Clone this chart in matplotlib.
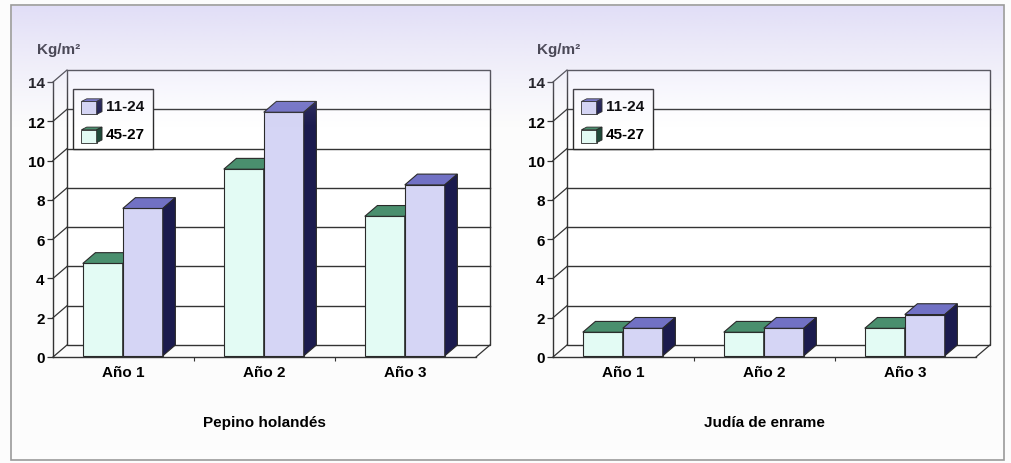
import matplotlib
matplotlib.use("Agg")
import matplotlib.pyplot as plt
from matplotlib.patches import Polygon, Rectangle, Patch
from matplotlib.legend_handler import HandlerBase
import numpy as np

# ---------------- data ----------------
categories = ["Año 1", "Año 2", "Año 3"]
series_names = ["11-24", "45-27"]
pepino_1124 = [7.5, 12.4, 8.7]
pepino_4527 = [4.7, 9.5, 7.1]
judia_1124 = [1.4, 1.4, 2.1]
judia_4527 = [1.2, 1.2, 1.4]
chart_titles = ["Pepino holandés", "Judía de enrame"]
y_ticks = [0, 2, 4, 6, 8, 10, 12, 14]
unit_label = "Kg/m²"

# ---------------- style ----------------
W, H, DPI = 1012, 464, 100
FONT = "Liberation Sans"
FS = 11
LAV_FRONT = "#d5d5f5"
LAV_TOP = "#7171c4"
LAV_SIDE = "#1b1b4e"
CY_FRONT = "#e3fbf4"
CY_TOP = "#4a8f6e"
CY_SIDE = "#1f4a3a"
EDGE = "#2a2a2a"
GRID = "#333333"

plt.rcParams['font.family'] = [FONT, 'DejaVu Sans']
plt.rcParams['font.weight'] = 'bold'

fig = plt.figure(figsize=(W / DPI, H / DPI), dpi=DPI)
fig.patch.set_facecolor("#fcfcfc")


class CubeHandler(HandlerBase):
    def __init__(self, front, top, side):
        super().__init__()
        self.front, self.top, self.side = front, top, side

    def create_artists(self, legend, orig_handle, xdescent, ydescent,
                       width, height, fontsize, trans):
        d = 0.26 * width
        w = width - d
        h = height - d * 0.5 + 1
        x0, y0 = -xdescent, -ydescent - 2
        front = Rectangle((x0, y0), w, h, facecolor=self.front, edgecolor=EDGE,
                          lw=0.6, transform=trans)
        top = Polygon([(x0, y0 + h), (x0 + w, y0 + h), (x0 + w + d, y0 + h + d * 0.5),
                       (x0 + d, y0 + h + d * 0.5)], closed=True, facecolor=self.top,
                      edgecolor=EDGE, lw=0.6, transform=trans)
        side = Polygon([(x0 + w, y0), (x0 + w, y0 + h), (x0 + w + d, y0 + h + d * 0.5),
                        (x0 + w + d, y0 + d * 0.5)], closed=True, facecolor=self.side,
                       edgecolor=EDGE, lw=0.6, transform=trans)
        return [front, top, side]


def draw_chart(x_left_px, vals_1124, vals_4527, title):
    # pixel geometry of the front axis box
    x0, x1 = x_left_px, x_left_px + 423
    y0, y1 = 358, 83
    ax = fig.add_axes([x0 / W, (H - y0) / H, (x1 - x0) / W, (y0 - y1) / H])
    ax.set_xlim(-0.5, len(categories) - 0.5)
    ax.set_ylim(y_ticks[0], y_ticks[-1])
    ax.patch.set_visible(False)

    px_per_x = (x1 - x0) / len(categories)
    px_per_y = (y0 - y1) / (y_ticks[-1] - y_ticks[0])
    ddx = 14 / px_per_x
    ddy = 12 / px_per_y
    xa, xb = -0.5, len(categories) - 0.5

    # back wall
    ax.add_patch(Rectangle((xa + ddx, ddy), xb - xa, y_ticks[-1], facecolor="white",
                           edgecolor=GRID, lw=1.0, zorder=0, clip_on=False))
    for v in y_ticks:
        if 0 < v < y_ticks[-1]:
            ax.plot([xa + ddx, xb + ddx], [v + ddy, v + ddy], color=GRID, lw=1.0,
                    zorder=1, clip_on=False)
        ax.plot([xa, xa + ddx], [v, v + ddy], color=GRID, lw=0.9, zorder=1, clip_on=False)
    # floor right edge
    ax.plot([xb, xb + ddx], [0, ddy], color=GRID, lw=0.9, zorder=1, clip_on=False)

    # bars
    bw = 40 / px_per_x
    f0 = 0.1
    fx, fy = f0 * ddx, f0 * ddy
    bdx, bdy = (1 - f0) * ddx, (1 - f0) * ddy
    xs = np.arange(len(categories))
    series = [(vals_4527, -bw, CY_FRONT, CY_TOP, CY_SIDE),
              (vals_1124, 0.0, LAV_FRONT, LAV_TOP, LAV_SIDE)]
    for i in xs:
        for vals, off, cf, ct, cs in series:
            v = vals[i]
            xl = i + off + fx - 0.015
            xr = xl + bw
            ax.bar(xl, v, width=bw, bottom=fy, align='edge', facecolor=cf,
                   edgecolor=EDGE, lw=0.8, zorder=3 + i)
            ax.add_patch(Polygon([(xl, fy + v), (xr, fy + v), (xr + bdx, fy + v + bdy),
                                  (xl + bdx, fy + v + bdy)], closed=True, facecolor=ct,
                                 edgecolor=EDGE, lw=0.8, zorder=3 + i, clip_on=False))
            ax.add_patch(Polygon([(xr, fy), (xr, fy + v), (xr + bdx, fy + v + bdy),
                                  (xr + bdx, fy + bdy)], closed=True, facecolor=cs,
                                 edgecolor=EDGE, lw=0.8, zorder=3 + i, clip_on=False))

    # axes
    for s in ("top", "right"):
        ax.spines[s].set_visible(False)
    for s in ("left", "bottom"):
        ax.spines[s].set_color(GRID)
        ax.spines[s].set_linewidth(1.0)
        ax.spines[s].set_zorder(2)
    ax.set_yticks(y_ticks)
    ax.set_yticklabels([str(t) for t in y_ticks], fontsize=FS, fontweight='bold')
    ax.tick_params(axis='y', length=4, width=0.9, color=GRID, pad=2)
    ax.set_xticks(xs)
    ax.set_xticklabels(categories, fontsize=FS, fontweight='bold')
    ax.tick_params(axis='x', which='major', length=0, pad=6)
    ax.set_xticks(xs[:-1] + 0.5, minor=True)
    ax.tick_params(axis='x', which='minor', length=3, width=0.8, color=GRID)

    ax.text(-16 / (x1 - x0), (y0 - 50) / (y0 - y1), unit_label, transform=ax.transAxes,
            ha='left', va='center', fontsize=FS, fontweight='bold')
    ax.text(0.5, (y0 - 423) / (y0 - y1), title, transform=ax.transAxes,
            ha='center', va='center', fontsize=FS, fontweight='bold')

    h1 = Patch(facecolor=LAV_FRONT)
    h2 = Patch(facecolor=CY_FRONT)
    leg = ax.legend([h1, h2], series_names, loc='upper left',
                    bbox_to_anchor=(20 / (x1 - x0), (y0 - 90) / (y0 - y1)),
                    handler_map={h1: CubeHandler(LAV_FRONT, LAV_TOP, LAV_SIDE),
                                 h2: CubeHandler(CY_FRONT, CY_TOP, CY_SIDE)},
                    prop={'family': FONT, 'weight': 'bold', 'size': FS},
                    frameon=True, fancybox=False, edgecolor=EDGE, framealpha=1,
                    handlelength=1.35, handleheight=1.05, handletextpad=0.25,
                    labelspacing=0.85, borderpad=0.55, borderaxespad=0)
    leg.get_frame().set_linewidth(1.0)
    leg.set_zorder(20)
    return ax


draw_chart(53, pepino_1124, pepino_4527, chart_titles[0])
draw_chart(553, judia_1124, judia_4527, chart_titles[1])

# outer frame and scan tint
ov = fig.add_axes([0, 0, 1, 1], zorder=30)
ov.axis('off')
ov.patch.set_visible(False)
rows = np.linspace(0, 1, 200)[:, None]
alpha = np.clip(1 - rows, 0, 1) ** 1.2 * 0.62
grad = np.zeros((200, 2, 4))
grad[..., 0] = 0.82
grad[..., 1] = 0.80
grad[..., 2] = 0.96
grad[..., 3] = alpha
ov.imshow(grad, extent=(12, 1003, 130, 7), aspect='auto', interpolation='bilinear')
ov.add_patch(Rectangle((11, 6), 993, 455, fill=False, edgecolor="#9a9a9a", lw=1.2))
ov.set_xlim(0, W)
ov.set_ylim(H, 0)

fig.savefig("out.png", dpi=DPI, facecolor=fig.get_facecolor())
